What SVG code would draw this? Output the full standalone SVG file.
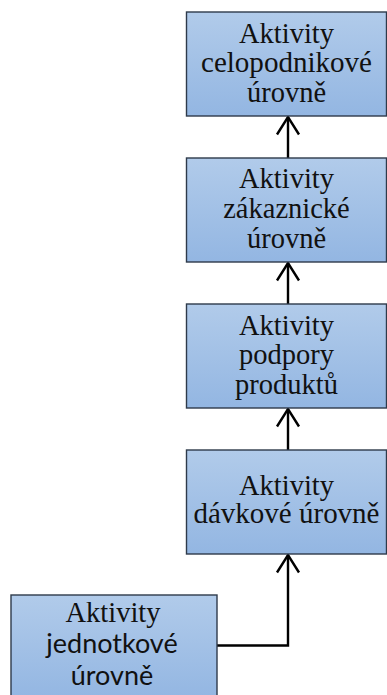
<svg xmlns="http://www.w3.org/2000/svg" width="387" height="695" viewBox="0 0 387 695">
  <defs>
    <linearGradient id="boxFill" x1="0" y1="0" x2="0" y2="1">
      <stop offset="0" stop-color="#b1cbea"/>
      <stop offset="1" stop-color="#93b6e2"/>
    </linearGradient>
    <!-- open arrowhead, tip at the end of the line -->
    <marker id="openArrow" viewBox="0 0 20 26" refX="18.5" refY="13" markerWidth="20" markerHeight="26" markerUnits="userSpaceOnUse" orient="auto">
      <path d="M1,2 L18.5,13 L1,24" fill="none" stroke="#000" stroke-width="2.4"/>
    </marker>
  </defs>
  <style>
    .box { fill: url(#boxFill); stroke: #2e3a4a; stroke-width: 1.4; }
    .lbl { font-size: 28.5px; fill: #111; text-anchor: middle; }
    .sans { font-size: 27px; }
    .conn { fill: none; stroke: #000; stroke-width: 2.4; }
  </style>
  <rect width="387" height="695" fill="#fff"/>

  <g id="connectors">
    <path class="conn" d="M288,158 V117" marker-end="url(#openArrow)"/>
    <path class="conn" d="M288,304 V263" marker-end="url(#openArrow)"/>
    <path class="conn" d="M288,450 V409" marker-end="url(#openArrow)"/>
    <path class="conn" d="M217,645.5 H288 V555" marker-end="url(#openArrow)"/>
  </g>

  <g font-family="Liberation Serif, Times New Roman, serif">
    <g id="celopodnikove">
      <rect class="box" x="186.5" y="12" width="200" height="104"/>
      <text class="lbl" x="286.5" y="43">Aktivity</text>
      <text class="lbl" x="286.5" y="72" textLength="171" lengthAdjust="spacingAndGlyphs">celopodnikové</text>
      <text class="lbl" x="286.5" y="102">úrovně</text>
    </g>

    <g id="zakaznicke">
      <rect class="box" x="186.5" y="158" width="200" height="104"/>
      <text class="lbl" x="286.5" y="188">Aktivity</text>
      <text class="lbl" x="286.5" y="218">zákaznické</text>
      <text class="lbl" x="286.5" y="248">úrovně</text>
    </g>

    <g id="podpory">
      <rect class="box" x="186.5" y="304" width="200" height="104"/>
      <text class="lbl" x="286.5" y="335">Aktivity</text>
      <text class="lbl" x="286.5" y="364">podpory</text>
      <text class="lbl" x="286.5" y="394">produktů</text>
    </g>

    <g id="davkove">
      <rect class="box" x="186.5" y="450" width="200" height="104"/>
      <text class="lbl" x="286.5" y="495">Aktivity</text>
      <text class="lbl" x="286.5" y="523" textLength="186" lengthAdjust="spacingAndGlyphs">dávkové úrovně</text>
    </g>

    <g id="jednotkove">
      <rect class="box" x="11" y="595" width="206" height="104"/>
      <text class="lbl" x="113" y="622">Aktivity</text>
      <text class="lbl sans" x="112" y="653" font-family="Lato, Open Sans, Liberation Sans, sans-serif">jednotkové</text>
      <text class="lbl sans" x="112" y="685" font-family="Lato, Open Sans, Liberation Sans, sans-serif">úrovně</text>
    </g>
  </g>
</svg>
